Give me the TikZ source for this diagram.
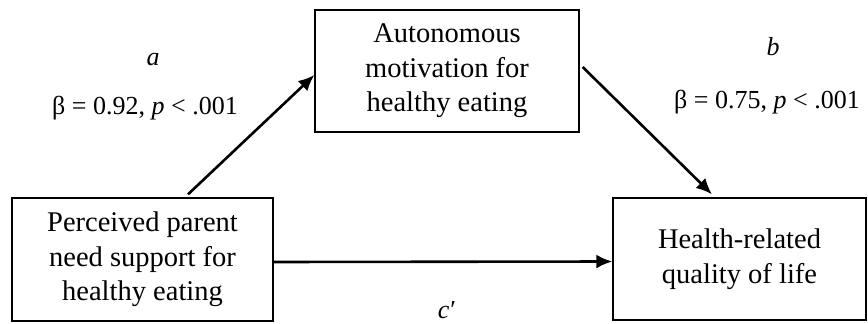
\documentclass[tikz,border=0pt]{standalone}
\usepackage{fontspec}
\setmainfont{Liberation Serif}
\usetikzlibrary{arrows.meta}
\begin{document}
\begin{tikzpicture}[x=1pt,y=-1pt,
		varbox/.style={draw,line width=1.3pt,align=center,inner sep=0pt,font=\fontsize{28.5}{34.5}\selectfont},
		pathline/.style={line width=2.6pt,-{Latex[length=16pt,width=14pt]}},
		coef/.style={font=\fontsize{26}{30}\selectfont}]
	\useasboundingbox (0,0) rectangle (868,324);
	\node[varbox,minimum width=261pt,minimum height=123pt] (support) at (142.5,259.5) {Perceived parent\\need support for\\healthy eating};
	\node[varbox,minimum width=264pt,minimum height=122pt] (motiv) at (447,71) {Autonomous\\motivation for\\healthy eating};
	\node[varbox,minimum width=253pt,minimum height=122pt] (hrqol) at (739.5,259) {Health-related\\quality of life};
	\draw[pathline] ([xshift=45.5pt,yshift=3pt]support.north) -- ([yshift=-4pt]motiv.west);
	\draw[pathline] ([xshift=3pt,yshift=4pt]motiv.east) -- ([xshift=-27.5pt,yshift=3pt]hrqol.north);
	\draw[pathline] ([yshift=-2.5pt]support.east) -- ([yshift=-2.5pt]hrqol.west);
	\node[coef] (alab) at (153,60) {\textit{a}};
	\node[coef] (acoef) at (145,108) {β = 0.92, \textit{p} < .001};
	\node[coef] (blab) at (773,47) {\textit{b}};
	\node[coef] (bcoef) at (767,102) {β = 0.75, \textit{p} < .001};
	\node[coef] (clab) at (447,310) {\textit{c}\kern1pt′};
\end{tikzpicture}
\end{document}
